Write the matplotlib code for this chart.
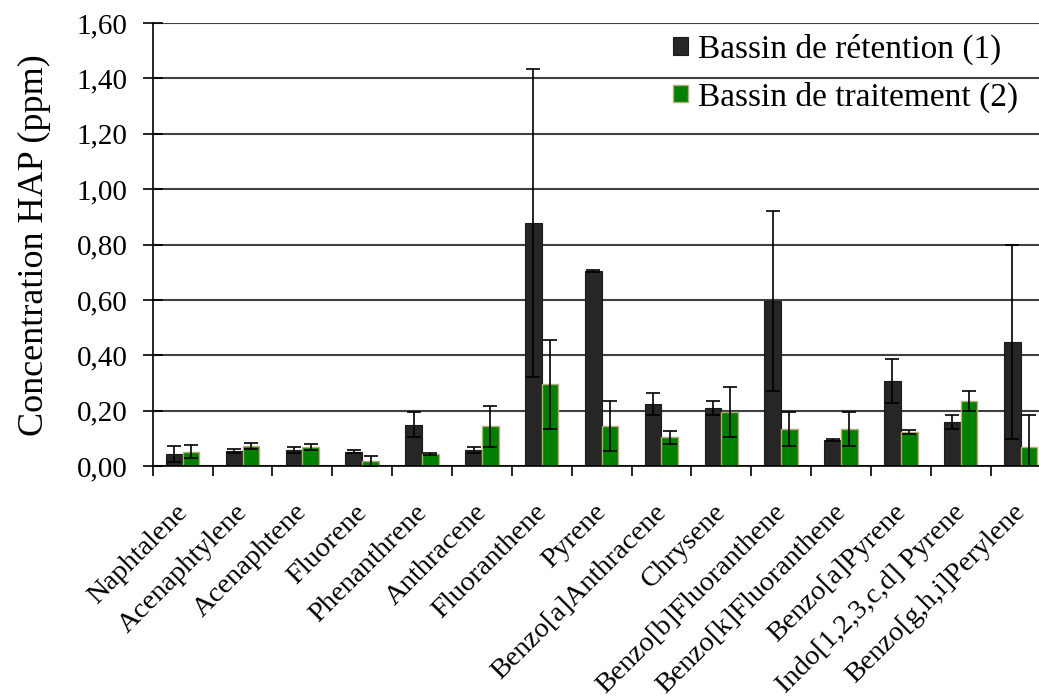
import numpy as np
import matplotlib.pyplot as plt

# HAP compounds and mean concentrations (ppm)
compounds = ['Naphtalene', 'Acenaphtylene', 'Acenaphtene', 'Fluorene', 'Phenanthrene',
             'Anthracene', 'Fluoranthene', 'Pyrene', 'Benzo[a]Anthracene', 'Chrysene',
             'Benzo[b]Fluoranthene', 'Benzo[k]Fluoranthene', 'Benzo[a]Pyrene',
             'Indo[1,2,3,c,d] Pyrene', 'Benzo[g,h,i]Perylene']
retention = [0.043, 0.055, 0.059, 0.052, 0.150, 0.058, 0.878, 0.705, 0.225, 0.210,
             0.597, 0.095, 0.307, 0.160, 0.449]
retention_err = [0.029, 0.008, 0.010, 0.005, 0.045, 0.010, 0.555, 0.003, 0.040, 0.025,
                 0.325, 0.003, 0.079, 0.024, 0.350]
traitement = [0.053, 0.073, 0.069, 0.018, 0.044, 0.144, 0.296, 0.144, 0.104, 0.195,
              0.135, 0.135, 0.123, 0.236, 0.070]
traitement_err = [0.025, 0.011, 0.010, 0.019, 0.005, 0.075, 0.161, 0.090, 0.025, 0.090,
                  0.061, 0.061, 0.007, 0.035, 0.114]
yticks = [0.0, 0.2, 0.4, 0.6, 0.8, 1.0, 1.2, 1.4, 1.6]

plt.rcParams['font.family'] = ['Liberation Serif', 'DejaVu Serif']

fig = plt.figure(figsize=(10.39, 6.99), dpi=100)
ax = fig.add_axes([0.147, 0.333, 0.864, 0.634])

x = np.arange(len(compounds))
w = 0.28
err_kw = dict(ecolor='black', elinewidth=1.2, capsize=5, capthick=1.2)
ax.bar(x - w / 2, retention, w, yerr=retention_err, color='#262626',
       edgecolor='#1a1a1a', linewidth=0.8, error_kw=err_kw,
       label='Bassin de rétention (1)')
ax.bar(x + w / 2, traitement, w, yerr=traitement_err, color='#008000',
       edgecolor='#b8aa7c', linewidth=1.0, error_kw=err_kw,
       label='Bassin de traitement (2)')

ax.set_xlim(-0.5, len(compounds) - 0.5)
ax.set_ylim(0, 1.6)
ax.set_yticks(yticks)
ax.set_yticklabels([f'{v:.2f}'.replace('.', ',') for v in yticks], fontsize=21)
ax.set_ylabel('Concentration HAP (ppm)', fontsize=26)
ax.yaxis.set_label_coords(-0.113, 0.5)

# labels sit a touch left of the category centre, tick marks on the boundaries
ax.set_xticks(x - 0.13)
ax.set_xticklabels(compounds, rotation=45, ha='right', va='top',
                   rotation_mode='anchor', fontsize=20.5)
ax.set_xticks(np.arange(len(compounds) + 1) - 0.5, minor=True)
ax.tick_params(axis='x', which='major', length=0, pad=24)
ax.tick_params(axis='x', which='minor', length=7, width=1.2, direction='out')
ax.tick_params(axis='y', length=14, width=1.2, direction='inout', pad=11)

ax.yaxis.grid(True, color='#404040', linewidth=1.5)
ax.set_axisbelow(True)
for s in ['top', 'right']:
    ax.spines[s].set_visible(False)
ax.spines['left'].set_linewidth(1.2)
ax.spines['bottom'].set_linewidth(1.2)

ax.legend(loc='upper left', bbox_to_anchor=(0.619, 0.995), bbox_transform=fig.transFigure,
          frameon=False, fontsize=24, handlelength=0.45, handleheight=0.45,
          handletextpad=0.3, labelspacing=0.5)

fig.savefig('out.png', dpi=100)
